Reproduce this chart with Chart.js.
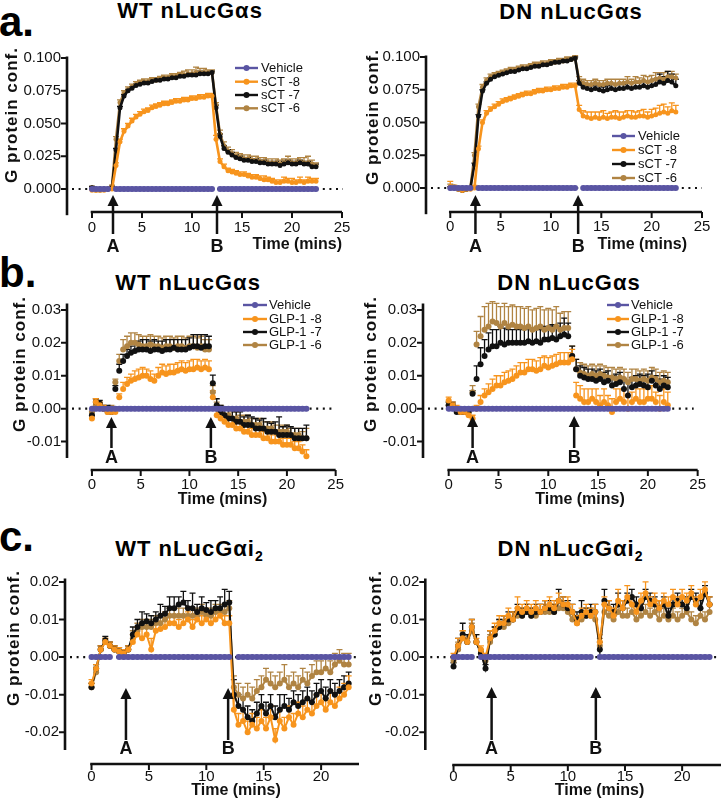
<!DOCTYPE html>
<html><head><meta charset="utf-8">
<script src="https://cdn.jsdelivr.net/npm/chart.js@4"></script>
<style>
html,body{margin:0;padding:0;background:#fff}
body{position:relative;width:724px;height:801px;overflow:hidden;font-family:"Liberation Sans",Arial,sans-serif;color:#000}
canvas{position:absolute}
.t{position:absolute;font-weight:bold;font-size:22px;letter-spacing:1px;line-height:1;white-space:nowrap;transform:translate(-50%,-50%)}
.t sub{font-size:14px;letter-spacing:0;vertical-align:-5px;line-height:0}
.p{position:absolute;font-weight:bold;font-size:42px;line-height:1}
</style></head>
<body>
<div class="p" style="left:-1px;top:1px">a.</div>
<div class="p" style="left:-1px;top:252px">b.</div>
<div class="p" style="left:-1px;top:516px">c.</div>
<div class="t" style="left:190px;top:11px">WT nLucGαs</div>
<div class="t" style="left:571px;top:12px">DN nLucGαs</div>
<div class="t" style="left:188px;top:283px">WT nLucGαs</div>
<div class="t" style="left:569px;top:283px">DN nLucGαs</div>
<div class="t" style="left:189px;top:549px">WT nLucGαi<sub>2</sub></div>
<div class="t" style="left:570px;top:549px">DN nLucGαi<sub>2</sub></div>
<script>
// ---------------- DATA ----------------
const timeMins = [0,0.4,0.8,1.2,1.6,2,2.4,2.8,3.2,3.6,
 4,4.4,4.8,5.2,5.6,6,6.4,6.8,7.2,7.6,
 8,8.4,8.8,9.2,9.6,10,10.4,10.8,11.2,11.6,
 12,12.4,12.8,13.2,13.6,14,14.4,14.8,15.2,15.6,
 16,16.4,16.8,17.2,17.6,18,18.4,18.8,19.2,19.6,
 20,20.4,20.8,21.2,21.6,22,22.4];

const legendSCT = ['Vehicle','sCT -8','sCT -7','sCT -6'];
const legendGLP = ['Vehicle','GLP-1 -8','GLP-1 -7','GLP-1 -6'];
const arrowLabels = ['A','B'];

const xTicks25 = [0,5,10,15,20,25];
const xTicks20 = [0,5,10,15,20];
const yTicksA = [0,0.025,0.05,0.075,0.1];
const yTicksB = [-0.01,0,0.01,0.02,0.03];
const yTicksC = [-0.02,-0.01,0,0.01,0.02];

// injection times (A, B) per panel
const injAWT = [2.1,12.5];
const injADN = [2.5,12.7];
const injBWT = [2.0,12.2];
const injBDN = [2.4,12.6];
const injCWT = [3.0,11.9];
const injCDN = [3.33,12.45];

const vehicleAWT = [0,0,0,0,0,null,0,0,0,0, 0,0,0,0,0,0,0,0,0,0, 0,0,0,0,0,0,0,0,0,0,
 0,null,0,0,0,0,0,0,0,0, 0,0,0,0,0,0,0,0,0,0, 0,0,0,0,0,0,0];
const vehicleADN = [0,0,0,0,0,0,null,0,0,0, 0,0,0,0,0,0,0,0,0,0, 0,0,0,0,0,0,0,0,0,0,
 0,0,null,0,0,0,0,0,0,0, 0,0,0,0,0,0,0,0,0,0, 0,0,0,0,0,0,0];
const vehicleB = [0,0,0,0,0,0,0,0,0,0, 0,0,0,0,0,0,0,0,0,0, 0,0,0,0,0,0,0,0,0,0,
 0,0,0,0,0,0,0,0,0,0, 0,0,0,0,0,0,0,0,0,0, 0,0,0,0,0,0,null];
const vehicleC = [0,0,0,0,0,null,0,0,0,0, 0,0,0,0,0,0,0,0,0,0, 0,0,0,0,0,0,0,0,0,0,
 0,null,0,0,0,0,0,0,0,0, 0,0,0,0,0,0,0,0,0,0, 0,0,0,0,0,0,0];

// a. WT nLucGas, sCT
const aWT_sct8 = [-.001,-.001,-.001,-.001,0,0,.018,.036,.044,.048,
 .052,.055,.057,.059,.060,.062,.063,.064,.065,.065,
 .066,.067,.067,.068,.068,.069,.069,.070,.070,.071,
 .071,.038,.021,.017,.014,.013,.012,.011,.011,.010,
 .009,.009,.008,.007,.007,.006,.005,.005,.006,.006,
 .005,.005,.006,.005,.006,.006,.006];
const aWT_sct7 = [.001,0,0,0,0,.001,.030,.062,.071,.075,
 .077,.079,.080,.081,.081,.082,.083,.083,.084,.084,
 .085,.085,.086,.086,.087,.087,.087,.088,.088,.088,
 .089,.062,.040,.031,.028,.026,.024,.023,.022,.022,
 .021,.021,.020,.020,.019,.019,.019,.018,.019,.020,
 .019,.019,.020,.019,.019,.017,.017];
const aWT_sct6 = [.001,-.001,-.001,0,0,.002,.038,.066,.073,.076,
 .078,.080,.081,.082,.082,.083,.083,.084,.085,.085,
 .086,.086,.087,.087,.088,.088,.089,.089,.089,.089,
 .089,.064,.042,.033,.029,.027,.025,.024,.023,.023,
 .022,.022,.021,.021,.020,.020,.020,.019,.020,.021,
 .020,.020,.021,.020,.020,.019,.018];
const aWT_sct8_sem = [.001,.001,.001,.001,.001,.001,.002,.002,.002,.002,
 .002,.002,.002,.002,.002,.002,.002,.002,.002,.002,
 .002,.002,.002,.002,.002,.002,.002,.002,.002,.002,
 .002,.003,.002,.002,.002,.002,.002,.002,.002,.002,
 .002,.002,.002,.003,.002,.002,.002,.002,.003,.002,
 .003,.002,.003,.002,.003,.002,.002];
const aWT_sct7_sem = [.001,.001,.001,.001,.001,.001,.001,.001,.001,.001,
 .001,.001,.001,.001,.001,.001,.001,.001,.001,.001,
 .001,.001,.001,.001,.001,.001,.001,.002,.001,.001,
 .001,.002,.002,.002,.002,.002,.002,.002,.002,.002,
 .002,.002,.002,.002,.002,.002,.002,.002,.002,.002,
 .002,.002,.002,.002,.002,.002,.002];
const aWT_sct6_sem = [.001,.001,.001,.001,.001,.001,.002,.002,.002,.002,
 .002,.002,.002,.002,.002,.002,.002,.002,.002,.002,
 .002,.002,.002,.003,.003,.003,.004,.003,.003,.002,
 .002,.002,.003,.003,.003,.003,.003,.003,.003,.003,
 .003,.003,.003,.003,.003,.003,.003,.003,.003,.004,
 .003,.003,.003,.004,.005,.003,.002];

// a. DN nLucGas, sCT
const aDN_sct8 = [.001,0,-.001,-.002,-.001,-.001,0,.030,.050,.057,
 .060,.062,.064,.066,.067,.068,.069,.070,.071,.072,
 .072,.073,.074,.074,.075,.075,.076,.076,.077,.077,
 .078,.078,.060,.055,.054,.053,.054,.053,.054,.053,
 .054,.054,.053,.054,.055,.054,.054,.055,.055,.054,
 .055,.056,.057,.058,.057,.059,.058];
const aDN_sct7 = [0,0,-.001,-.002,-.001,0,.018,.055,.074,.080,
 .083,.085,.086,.087,.088,.089,.089,.090,.091,.091,
 .092,.093,.093,.094,.094,.095,.096,.096,.097,.097,
 .098,.099,.080,.077,.076,.075,.076,.075,.074,.075,
 .076,.075,.076,.076,.077,.076,.077,.077,.078,.077,
 .078,.079,.081,.080,.082,.081,.078];
const aDN_sct6 = [.001,.001,0,-.001,-.001,0,.025,.062,.077,.082,
 .085,.086,.087,.088,.089,.090,.090,.091,.092,.092,
 .093,.094,.094,.095,.095,.096,.096,.097,.097,.098,
 .098,.099,.082,.080,.079,.079,.080,.079,.079,.080,
 .080,.079,.080,.080,.081,.080,.081,.081,.082,.081,
 .082,.083,.084,.083,.085,.085,.084];
const aDN_sct8_sem = [.004,.002,.002,.002,.002,.002,.002,.002,.002,.002,
 .002,.002,.002,.002,.002,.002,.002,.002,.002,.002,
 .002,.002,.002,.002,.002,.002,.002,.002,.002,.002,
 .002,.002,.003,.004,.004,.005,.004,.005,.005,.004,
 .004,.005,.005,.004,.004,.005,.004,.004,.005,.004,
 .005,.005,.006,.006,.005,.006,.005];
const aDN_sct7_sem = [.001,.001,.001,.001,.001,.001,.001,.001,.001,.001,
 .001,.001,.001,.001,.001,.001,.001,.001,.001,.001,
 .001,.001,.001,.001,.001,.001,.001,.001,.001,.001,
 .001,.001,.002,.003,.003,.003,.003,.003,.003,.003,
 .003,.004,.003,.003,.003,.004,.003,.004,.004,.004,
 .004,.004,.006,.005,.007,.006,.005];
const aDN_sct6_sem = [.002,.001,.001,.001,.001,.001,.002,.002,.002,.002,
 .002,.002,.002,.002,.002,.002,.002,.002,.002,.002,
 .002,.002,.002,.002,.002,.002,.002,.002,.002,.002,
 .002,.002,.003,.003,.003,.003,.003,.003,.003,.003,
 .003,.004,.003,.003,.004,.003,.004,.003,.004,.004,
 .004,.005,.004,.005,.004,.004,.003];

// b. WT nLucGas, GLP-1
const bWT_glp8 = [-.003,.002,.001,0,-.001,-.001,-.001,.0035,.006,.0075,
 .0085,.009,.0095,.010,.010,.009,.0085,.010,.011,.0105,
 .011,.011,.0115,.012,.0115,.012,.012,.0125,.012,.0125,
 .012,.0035,-.002,-.003,-.004,-.005,-.005,-.006,-.006,-.007,
 -.007,-.008,-.008,-.008,-.009,-.009,-.010,-.010,-.010,-.011,
 -.011,-.011,-.012,-.012,-.013,-.0145,null];
const bWT_glp7 = [-.002,.002,.0015,0,0,-.001,.006,.0115,.0145,.016,
 .017,.0175,.018,.018,.018,.0175,.018,.018,.0175,.018,
 .018,.0185,.018,.018,.018,.0185,.019,.019,.0185,.019,
 .019,.0077,.001,-.001,-.002,-.003,-.003,-.004,-.004,-.005,
 -.005,-.005,-.006,-.006,-.006,-.007,-.007,-.007,-.008,-.008,
 -.008,-.008,-.009,-.009,-.009,-.009,null];
const bWT_glp6 = [-.001,.001,.001,0,-.001,0,.008,.0145,.018,.019,
 .020,.020,.0195,.019,.019,.0195,.019,.019,.0185,.019,
 .019,.0185,.019,.019,.0185,.019,.019,.0185,.019,.018,
 .018,.005,0,-.001,-.002,-.002,-.003,-.003,-.004,-.004,
 -.004,-.005,-.005,-.005,-.006,-.006,-.006,-.007,-.007,-.007,
 -.007,-.008,-.008,-.008,-.009,-.009,null];
const bWT_glp8_sem = [.001,.001,.001,.001,.001,.001,.001,.001,.002,.002,
 .002,.0025,.0025,.0025,.002,.0025,.002,.0025,.0025,.0025,
 .0025,.0025,.0025,.0025,.0025,.0025,.003,.0025,.0025,.0025,
 .0025,.002,.002,.002,.002,.002,.002,.002,.002,.002,
 .002,.002,.002,.002,.002,.002,.002,.002,.002,.002,
 .002,.002,.002,.002,.002,.002,null];
const bWT_glp7_sem = [.001,.001,.001,.001,.001,.001,.001,.002,.002,.002,
 .002,.0025,.0025,.003,.003,.003,.003,.0025,.003,.003,
 .003,.0025,.003,.003,.003,.003,.0035,.0035,.004,.0035,
 .003,.0025,.002,.002,.0025,.003,.0025,.003,.003,.0025,
 .003,.0025,.003,.0025,.003,.003,.0025,.003,.0055,.0025,
 .003,.0025,.003,.003,.003,.004,null];
const bWT_glp6_sem = [.001,.001,.001,.001,.001,.001,.001,.002,.003,.003,
 .003,.003,.003,.003,.003,.003,.003,.003,.003,.003,
 .003,.003,.003,.003,.003,.003,.003,.003,.003,.003,
 .003,.002,.002,.002,.002,.002,.002,.002,.002,.002,
 .002,.002,.002,.002,.002,.002,.002,.002,.002,.002,
 .002,.002,.002,.002,.002,.003,null];

// b. DN nLucGas, GLP-1
const bDN_glp8 = [.0025,.001,0,-.001,-.001,-.002,-.003,0,.002,.004,
 .005,.006,.007,.007,.008,.0085,.009,.010,.011,.011,
 .012,.012,.0115,.012,.013,.0125,.013,.0135,.014,.014,
 .014,.015,.004,.003,.002,.002,.003,.002,.001,.002,
 .001,-.001,.002,.003,.002,0,.002,.003,.002,.002,
 .003,.003,.002,0,.002,.001,null];
const bDN_glp7 = [.001,.001,-.001,-.001,-.001,-.001,.0045,.009,.0135,.016,
 .018,.019,.019,.020,.0195,.020,.020,.020,.020,.020,
 .0205,.020,.0205,.020,.021,.021,.0215,.021,.022,.0225,
 .022,.016,.012,.010,.0095,.009,.009,.0085,.009,.008,
 .0085,.007,.0075,.008,.006,.004,.0065,.007,.0075,.007,
 .0065,.0085,.007,.006,.007,.0065,null];
const bDN_glp6 = [.001,.0005,-.0005,-.001,-.001,-.001,.005,.0195,.022,.024,
 .025,.0265,.026,.025,.026,.025,.0255,.025,.025,.0245,
 .025,.024,.0245,.025,.024,.0245,.024,.025,.024,.0245,
 .0245,.016,.012,.011,.0105,.010,.0105,.010,.0105,.010,
 .0095,.0095,.009,.0095,.009,.008,.009,.009,.0085,.009,
 .0085,.0095,.009,.008,.0085,.008,null];
const bDN_glp8_sem = [.001,.001,.001,.001,.001,.001,.001,.001,.002,.002,
 .0025,.003,.003,.003,.003,.003,.003,.003,.003,.003,
 .003,.003,.003,.0035,.003,.003,.003,.003,.003,.003,
 .003,.003,.004,.004,.004,.004,.003,.004,.003,.004,
 .003,.004,.004,.003,.004,.004,.003,.004,.004,.004,
 .003,.004,.003,.004,.004,.004,null];
const bDN_glp7_sem = [.001,.001,.001,.001,.001,.001,.001,.004,.005,.005,
 .005,.005,.005,.005,.005,.004,.004,.004,.004,.004,
 .004,.004,.004,.004,.004,.004,.004,.004,.004,.005,
 .004,.003,.003,.003,.003,.003,.003,.003,.003,.003,
 .003,.003,.003,.003,.003,.004,.003,.003,.003,.003,
 .004,.003,.003,.003,.003,.003,null];
const bDN_glp6_sem = [.001,.001,.001,.001,.001,.001,.002,.004,.006,.007,
 .007,.006,.006,.006,.006,.006,.006,.006,.006,.006,
 .006,.006,.006,.006,.006,.006,.006,.006,.005,.005,
 .005,.003,.003,.003,.003,.003,.003,.003,.003,.003,
 .003,.003,.003,.003,.003,.003,.003,.003,.003,.003,
 .003,.003,.003,.003,.003,.003,null];

// c. WT nLucGai2, GLP-1
const cWT_glp8 = [-.007,-.003,.002,.004,.003,.002,.0015,.001,.002,.004,
 .006,.005,.006,.002,.007,.0075,.008,.009,.009,.008,
 .009,.010,.008,.010,.009,.010,.009,.010,.011,.009,
 .009,-.014,-.018,-.017,-.020,-.018,-.019,-.017,-.019,-.016,
 -.022,-.017,-.019,-.016,-.018,-.015,-.016,-.014,-.015,-.013,
 -.012,-.014,-.012,-.013,-.011,-.010,-.008];
const cWT_glp7 = [-.008,-.003,.002,.0045,.003,.002,.0015,.001,.002,.006,
 .008,.009,.0095,.009,.010,.011,.0115,.013,.013,.014,
 .0145,.013,.013,.012,.013,.0125,.012,.013,.013,.014,
 .0145,-.010,-.013,-.014,-.016,-.017,-.015,-.013,-.015,-.013,
 -.016,-.014,-.013,-.014,-.012,-.013,-.012,-.011,-.012,-.010,
 -.009,-.011,-.009,-.010,-.009,-.008,-.007];
const cWT_glp6 = [-.008,-.004,.002,.004,.003,.002,.0015,.001,.002,.005,
 .007,.008,.008,.008,.009,.009,.010,.011,.011,.011,
 .011,.011,.011,.011,.012,.011,.011,.012,.012,.012,
 .013,-.008,-.010,-.011,-.010,-.011,-.009,-.008,-.006,-.007,
 -.008,-.007,-.006,-.008,-.007,-.008,-.006,-.007,-.005,-.004,
 -.004,-.003,-.004,-.002,-.001,-.002,-.002];
const cWT_glp8_sem = [.001,.001,.001,.001,.001,.001,.001,.001,.001,.002,
 .002,.003,.002,.003,.002,.002,.002,.002,.002,.002,
 .002,.002,.002,.002,.002,.002,.002,.002,.002,.002,
 .002,.003,.003,.003,.003,.003,.003,.003,.003,.003,
 .003,.003,.003,.003,.003,.003,.003,.003,.003,.003,
 .003,.003,.003,.003,.003,.003,.003];
const cWT_glp7_sem = [.001,.001,.001,.001,.001,.001,.001,.001,.001,.002,
 .002,.003,.002,.002,.002,.003,.002,.003,.003,.002,
 .003,.002,.004,.002,.003,.002,.003,.002,.003,.004,
 .003,.004,.003,.003,.003,.003,.003,.003,.003,.003,
 .003,.004,.003,.003,.003,.003,.003,.003,.003,.003,
 .003,.003,.003,.003,.003,.003,.003];
const cWT_glp6_sem = [.001,.001,.001,.001,.001,.001,.001,.001,.001,.002,
 .002,.002,.002,.002,.002,.002,.002,.002,.002,.002,
 .002,.002,.002,.002,.002,.002,.002,.002,.002,.002,
 .002,.003,.003,.003,.003,.003,.003,.003,.003,.003,
 .003,.003,.004,.003,.003,.003,.003,.003,.003,.003,
 .003,.003,.003,.003,.003,.003,.003];

// c. DN nLucGai2, GLP-1
const cDN_glp8 = [0,.003,.005,.004,.008,.004,.002,0,.005,.007,
 .009,.009,.011,.010,.013,.012,.013,.012,.013,.012,
 .013,.014,.013,.015,.014,.014,.012,.009,.011,.012,
 .011,.012,.004,.014,.013,.011,.015,.013,.016,.014,
 .012,.015,.017,.014,.015,.013,.015,.014,.016,.014,
 .016,.015,.017,.014,.016,.018,.014];
const cDN_glp7 = [-.0025,.003,.006,.004,.008,.004,.001,-.003,.005,.006,
 .008,.009,.010,.010,.012,.011,.012,.011,.012,.012,
 .013,.013,.012,.015,.014,.013,.012,.010,.012,.011,
 .012,.012,.002,.015,.013,.012,.014,.013,.015,.016,
 .014,.013,.016,.015,.014,.013,.014,.011,.014,.015,
 .014,.013,.016,.015,.013,.017,.014];
const cDN_glp6 = [-.001,.002,.005,.004,.007,.004,.001,-.001,.004,.006,
 .008,.008,.009,.010,.011,.011,.012,.011,.011,.012,
 .012,.012,.012,.013,.013,.012,.010,.009,.010,.011,
 .011,.010,.003,.012,.011,.010,.012,.011,.011,.012,
 .010,.011,.012,.011,.012,.010,.011,.010,.011,.010,
 .011,.012,.010,.009,.011,.010,.012];
const cDN_glp8_sem = [.001,.002,.002,.001,.002,.001,.001,.001,.002,.002,
 .002,.002,.002,.002,.003,.002,.002,.002,.002,.002,
 .002,.002,.002,.002,.002,.002,.002,.002,.002,.002,
 .002,.002,.002,.002,.002,.002,.003,.002,.003,.002,
 .002,.002,.003,.002,.002,.002,.002,.002,.002,.002,
 .002,.002,.002,.002,.002,.002,.002];
const cDN_glp7_sem = [.001,.002,.003,.002,.002,.002,.001,.001,.002,.002,
 .002,.002,.002,.002,.002,.002,.002,.002,.002,.002,
 .002,.002,.002,.003,.002,.002,.002,.002,.003,.002,
 .002,.002,.002,.003,.002,.002,.003,.002,.002,.002,
 .002,.002,.002,.002,.002,.002,.002,.002,.002,.002,
 .002,.003,.002,.002,.002,.002,.002];
const cDN_glp6_sem = [.001,.002,.002,.002,.002,.002,.001,.001,.002,.002,
 .002,.002,.002,.002,.002,.002,.002,.002,.002,.002,
 .002,.002,.002,.002,.002,.002,.002,.002,.002,.002,
 .002,.002,.002,.002,.002,.002,.002,.002,.002,.002,
 .002,.002,.002,.002,.002,.002,.002,.002,.002,.002,
 .002,.002,.002,.002,.002,.002,.002];

// ---------------- STYLE / LAYOUT ----------------
const FONT = '"Liberation Sans", Arial, Helvetica, sans-serif';
const seriesColors = ['#5a55a3','#f7941d','#111111','#b08443'];
Chart.defaults.font.family = FONT;

const panels = [
 {box:[0,30,362,265], area:[67,58,342,215.2], xr:[-2.5,25], yr:[-0.02,0.1], yTicks:yTicksA, dec:3, xTicks:xTicks25,
  xLabPad:4, xAxisY:212, xEnd:25, dotEnd:25.1, inj:injAWT, tipY:195, arrowBot:234, abY:247,
  series:[vehicleAWT,aWT_sct8,aWT_sct7,aWT_sct6], sem:[null,aWT_sct8_sem,aWT_sct7_sem,aWT_sct6_sem], names:legendSCT,
  legend:{x0:235,x1:258,tx:261,ys:[68,81.7,95,108.3]}, yTitle:[12,115], xTitle:{x:342,y:245,align:'right'}, showLine:true, r:2.5, lw:2.6},
 {box:[362,30,724,265], area:[426,57,702,214.2], xr:[-2.41,25], yr:[-0.02,0.1], yTicks:yTicksA, dec:3, xTicks:xTicks25,
  xLabPad:4, xAxisY:212, xEnd:25, dotEnd:25, inj:injADN, tipY:195, arrowBot:234, abY:247,
  series:[vehicleADN,aDN_sct8,aDN_sct7,aDN_sct6], sem:[null,aDN_sct8_sem,aDN_sct7_sem,aDN_sct6_sem], names:legendSCT,
  legend:{x0:612,x1:635,tx:638,ys:[136,150,164,178]}, yTitle:[373,117], xTitle:{x:687,y:245,align:'right'}, showLine:true, r:2.5, lw:2.6},
 {box:[0,290,362,515], area:[67,300,347,458], xr:[-2.56,25], yr:[-0.015,0.0315], yTicks:yTicksB, dec:2, xTicks:xTicks25,
  xLabPad:18, xAxisY:470, xEnd:25, dotEnd:24.6, inj:injBWT, tipY:417, arrowBot:448, abY:458.5,
  series:[vehicleB,bWT_glp8,bWT_glp7,bWT_glp6], sem:[null,bWT_glp8_sem,bWT_glp7_sem,bWT_glp6_sem], names:legendGLP,
  legend:{x0:243,x1:267,tx:269,ys:[305,319,332,345]}, yTitle:[20,364], xTitle:{x:222.5,y:500,align:'center'}, showLine:false, r:3, lw:2},
 {box:[362,290,724,515], area:[423,300,704,458], xr:[-2.58,25], yr:[-0.015,0.0315], yTicks:yTicksB, dec:2, xTicks:xTicks25,
  xLabPad:18, xAxisY:470, xEnd:25, dotEnd:24.6, inj:injBDN, tipY:416, arrowBot:448, abY:458,
  series:[vehicleB,bDN_glp8,bDN_glp7,bDN_glp6], sem:[null,bDN_glp8_sem,bDN_glp7_sem,bDN_glp6_sem], names:legendGLP,
  legend:{x0:607,x1:629,tx:631,ys:[305,319,332,345]}, yTitle:[371,364], xTitle:{x:580,y:500,align:'center'}, showLine:false, r:3, lw:2},
 {box:[0,565,362,801], area:[65,578,361,750], xr:[-2.31,23.3], yr:[-0.0247,0.0205], yTicks:yTicksC, dec:2, xTicks:xTicks20,
  xLabPad:18, xAxisY:764, xEnd:23.3, dotEnd:23.3, inj:injCWT, tipY:688, arrowBot:740, abY:749,
  series:[vehicleC,cWT_glp8,cWT_glp7,cWT_glp6], sem:[null,cWT_glp8_sem,cWT_glp7_sem,cWT_glp6_sem], names:legendGLP,
  legend:null, yTitle:[14,638], xTitle:{x:236,y:791,align:'center'}, showLine:true, r:3, lw:2},
 {box:[362,565,724,801], area:[425.3,578,723,750], xr:[-2.47,23.4], yr:[-0.0247,0.0205], yTicks:yTicksC, dec:2, xTicks:xTicks20,
  xLabPad:18, xAxisY:765, xEnd:23.4, dotEnd:23.3, inj:injCDN, tipY:687, arrowBot:740, abY:749,
  series:[vehicleC,cDN_glp8,cDN_glp7,cDN_glp6], sem:[null,cDN_glp8_sem,cDN_glp7_sem,cDN_glp6_sem], names:legendGLP,
  legend:null, yTitle:[376,638], xTitle:{x:599.5,y:791,align:'center'}, showLine:true, r:3, lw:2}
];

function makePanel(p) {
  const [bl, bt, br, bb] = p.box;
  const [al, at, ar, ab] = p.area;
  const cv = document.createElement('canvas');
  cv.width = br - bl; cv.height = bb - bt;
  cv.style.left = bl + 'px'; cv.style.top = bt + 'px';
  document.body.appendChild(cv);
  const cx = v => v - bl, cy = v => v - bt;

  const datasets = p.series.map((vals, k) => ({
    label: p.names[k],
    data: timeMins.map((t, i) => ({x: t, y: vals[i]})),
    borderColor: seriesColors[k], backgroundColor: seriesColors[k],
    pointRadius: k === 0 ? 3 : p.r, pointBorderWidth: 0, pointHoverRadius: 0,
    borderWidth: k === 0 ? 5 : p.lw,
    showLine: k === 0 ? true : p.showLine,
    spanGaps: false, clip: false, tension: 0
  }));

  const deco = {
    id: 'deco',
    beforeDatasetsDraw(chart) {
      const ctx = chart.ctx, xs = chart.scales.x, ys = chart.scales.y, ca = chart.chartArea;
      ctx.save();
      const y0 = ys.getPixelForValue(0);
      ctx.strokeStyle = '#111'; ctx.lineWidth = 2.2; ctx.setLineDash([2, 4.6]);
      ctx.beginPath(); ctx.moveTo(ca.left + 5, y0); ctx.lineTo(xs.getPixelForValue(p.dotEnd), y0); ctx.stroke();
      ctx.setLineDash([]);
      for (let k = p.series.length - 1; k >= 1; k--) {
        const vals = p.series[k], sem = p.sem[k];
        if (!sem) continue;
        ctx.strokeStyle = seriesColors[k]; ctx.lineWidth = 1.3;
        ctx.beginPath();
        timeMins.forEach((t, i) => {
          const v = vals[i], e = sem[i];
          if (v == null || e == null) return;
          const px = xs.getPixelForValue(t), py = ys.getPixelForValue(v), pe = ys.getPixelForValue(v + e);
          ctx.moveTo(px, py); ctx.lineTo(px, pe);
          ctx.moveTo(px - 3, pe); ctx.lineTo(px + 3, pe);
        });
        ctx.stroke();
      }
      ctx.restore();
    },
    afterDatasetsDraw(chart) {
      const ctx = chart.ctx, xs = chart.scales.x, ys = chart.scales.y, ca = chart.chartArea;
      ctx.save();
      ctx.strokeStyle = '#111'; ctx.fillStyle = '#111';
      ctx.lineWidth = 2.6;
      ctx.beginPath(); ctx.moveTo(ca.left, ca.top - 1.5); ctx.lineTo(ca.left, ca.bottom); ctx.stroke();
      ctx.lineWidth = 2;
      ctx.beginPath();
      p.yTicks.forEach(v => { const py = ys.getPixelForValue(v); ctx.moveTo(ca.left - 6, py); ctx.lineTo(ca.left, py); });
      ctx.stroke();
      const xa = cy(p.xAxisY);
      ctx.lineWidth = 2.6;
      ctx.beginPath(); ctx.moveTo(xs.getPixelForValue(0) - 1.3, xa); ctx.lineTo(xs.getPixelForValue(p.xEnd), xa); ctx.stroke();
      ctx.lineWidth = 2;
      ctx.beginPath();
      p.xTicks.forEach(v => { const px = xs.getPixelForValue(v); ctx.moveTo(px, xa); ctx.lineTo(px, xa + 6); });
      ctx.stroke();
      p.inj.forEach((t, j) => {
        const px = xs.getPixelForValue(t), tip = cy(p.tipY), bot = cy(p.arrowBot);
        ctx.lineWidth = 2.5;
        ctx.beginPath(); ctx.moveTo(px, tip + 8); ctx.lineTo(px, bot); ctx.stroke();
        ctx.beginPath(); ctx.moveTo(px, tip); ctx.lineTo(px - 5.5, tip + 11); ctx.lineTo(px + 5.5, tip + 11); ctx.closePath(); ctx.fill();
        ctx.font = 'bold 18px ' + FONT; ctx.textAlign = 'center'; ctx.textBaseline = 'middle';
        ctx.fillText(arrowLabels[j], px, cy(p.abY));
      });
      if (p.legend) {
        const L = p.legend;
        chart.data.datasets.forEach((ds, k) => {
          const y = cy(L.ys[k]);
          ctx.strokeStyle = seriesColors[k]; ctx.fillStyle = seriesColors[k]; ctx.lineWidth = 2.4;
          ctx.beginPath(); ctx.moveTo(cx(L.x0), y); ctx.lineTo(cx(L.x1), y); ctx.stroke();
          ctx.beginPath(); ctx.arc((cx(L.x0) + cx(L.x1)) / 2, y, 3, 0, Math.PI * 2); ctx.fill();
          ctx.fillStyle = '#111'; ctx.font = '13px ' + FONT; ctx.textAlign = 'left'; ctx.textBaseline = 'middle';
          ctx.fillText(ds.label, cx(L.tx), y + 0.5);
        });
      }
      ctx.fillStyle = '#111';
      ctx.save();
      ctx.translate(cx(p.yTitle[0]), cy(p.yTitle[1]));
      ctx.rotate(-Math.PI / 2);
      ctx.font = 'bold 17px ' + FONT; ctx.textAlign = 'center'; ctx.textBaseline = 'middle';
      try { ctx.letterSpacing = '1px'; } catch (e) {}
      ctx.fillText('G protein conf.', 0, 0);
      ctx.restore();
      ctx.font = 'bold 16px ' + FONT; ctx.textAlign = p.xTitle.align; ctx.textBaseline = 'middle';
      ctx.fillText('Time (mins)', cx(p.xTitle.x), cy(p.xTitle.y));
      ctx.restore();
    }
  };

  new Chart(cv.getContext('2d'), {
    type: 'line',
    data: {datasets},
    options: {
      responsive: false, animation: false, devicePixelRatio: 1,
      events: [],
      layout: {padding: {left: 0, top: at - bt, right: br - ar, bottom: 0}},
      scales: {
        x: {
          type: 'linear', min: p.xr[0], max: p.xr[1],
          grid: {display: false, drawTicks: false}, border: {display: false},
          ticks: {font: {size: 15, family: FONT}, color: '#111', padding: p.xLabPad, maxRotation: 0, autoSkip: false,
                  callback: v => String(v)},
          afterBuildTicks: s => { s.ticks = p.xTicks.map(v => ({value: v})); },
          afterFit: s => { s.height = bb - ab; }
        },
        y: {
          type: 'linear', min: p.yr[0], max: p.yr[1],
          grid: {display: false, drawTicks: false}, border: {display: false},
          ticks: {font: {size: 15, family: FONT}, color: '#111', padding: 6, autoSkip: false,
                  callback: v => Number(v).toFixed(p.dec)},
          afterBuildTicks: s => { s.ticks = p.yTicks.map(v => ({value: v})); },
          afterFit: s => { s.width = al - bl; }
        }
      },
      plugins: {legend: {display: false}, tooltip: {enabled: false}, title: {display: false}}
    },
    plugins: [deco]
  });
}
panels.forEach(makePanel);
</script>
</body></html>
